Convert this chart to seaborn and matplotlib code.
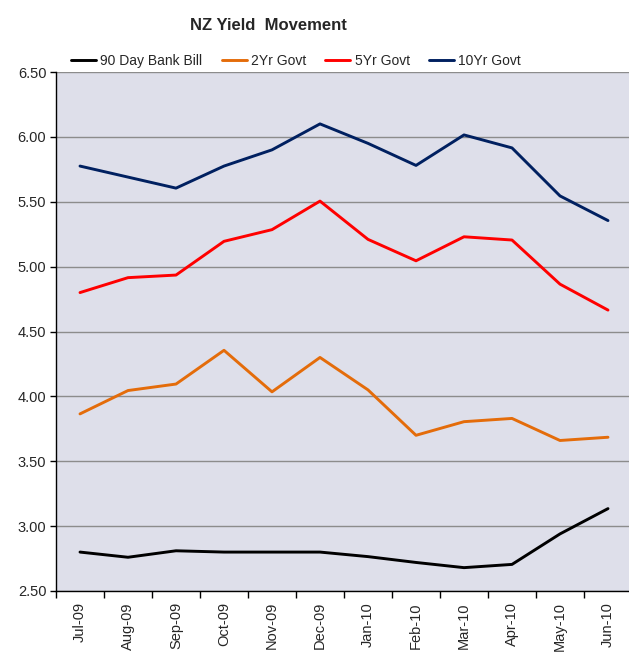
import matplotlib
matplotlib.use("Agg")
import matplotlib.pyplot as plt
import seaborn as sns
import pandas as pd
import numpy as np
from matplotlib.lines import Line2D

months = ["Jul-09", "Aug-09", "Sep-09", "Oct-09", "Nov-09", "Dec-09",
          "Jan-10", "Feb-10", "Mar-10", "Apr-10", "May-10", "Jun-10"]
bank_bill_90d = [2.80, 2.76, 2.81, 2.80, 2.80, 2.80, 2.765, 2.72, 2.68, 2.705, 2.94, 3.135]
govt_2yr = [3.865, 4.045, 4.095, 4.355, 4.035, 4.30, 4.05, 3.70, 3.805, 3.83, 3.66, 3.685]
govt_5yr = [4.80, 4.915, 4.935, 5.195, 5.285, 5.505, 5.21, 5.045, 5.23, 5.205, 4.865, 4.665]
govt_10yr = [5.775, 5.69, 5.605, 5.775, 5.90, 6.10, 5.95, 5.78, 6.015, 5.915, 5.545, 5.355]
series_names = ["90 Day Bank Bill", "2Yr Govt", "5Yr Govt", "10Yr Govt"]
colors = ["#000000", "#E46C0A", "#FF0000", "#002060"]

rows = []
for name, vals in zip(series_names, [bank_bill_90d, govt_2yr, govt_5yr, govt_10yr]):
    for i, v in enumerate(vals):
        rows.append({"idx": i, "Month": months[i], "Yield": v, "Series": name})
df = pd.DataFrame(rows)

sns.set_theme(style="white")
plt.rcParams["font.family"] = ["Liberation Sans", "DejaVu Sans"]

fig = plt.figure(figsize=(6.29, 6.57), dpi=100)
ax = fig.add_axes([56/629, 66/657, 576/629, 519/657])
ax.set_facecolor("#DEDFEA")

sns.lineplot(data=df, x="idx", y="Yield", hue="Series", hue_order=series_names,
             palette=colors, linewidth=2.1, ax=ax, legend=False, sort=False)

ax.set_xlim(-0.5, 11.5)
ax.set_ylim(2.5, 6.5)
yt = np.arange(2.5, 6.51, 0.5)
ax.set_yticks(yt)
ax.set_yticklabels([f"{v:.2f}" for v in yt], fontsize=10.5)
ax.set_xticks(range(len(months)))
ax.set_xticklabels(months, rotation=90, fontsize=10.5)
ax.set_xticks(np.arange(-0.5, 12, 1), minor=True)
ax.tick_params(axis="x", which="major", length=0, pad=8)
ax.tick_params(axis="x", which="minor", length=5, width=1, color="black", direction="out", bottom=True)
ax.tick_params(axis="y", which="major", length=4, width=1, color="black", direction="out", left=True, pad=3)
ax.grid(axis="y", color="#8C8C8C", linewidth=1.0)
ax.grid(axis="x", visible=False)
ax.set_axisbelow(True)
for s in ["top", "right"]:
    ax.spines[s].set_visible(False)
for s in ["left", "bottom"]:
    ax.spines[s].set_color("black")
    ax.spines[s].set_linewidth(1.0)
ax.set_xlabel("")
ax.set_ylabel("")

handles = [Line2D([0], [0], color=c, lw=2.1) for c in colors]
fig.legend(handles, series_names, loc="center", bbox_to_anchor=(296/629, 1 - 61/657), ncol=4,
           frameon=False, fontsize=10, handlelength=1.8, handletextpad=0.3, columnspacing=1.4)

fig.text(268/629, 1 - 25/657, "NZ Yield  Movement", ha="center", va="center",
         fontsize=12, fontweight="bold")

fig.savefig("out.png", dpi=100, facecolor="white")
